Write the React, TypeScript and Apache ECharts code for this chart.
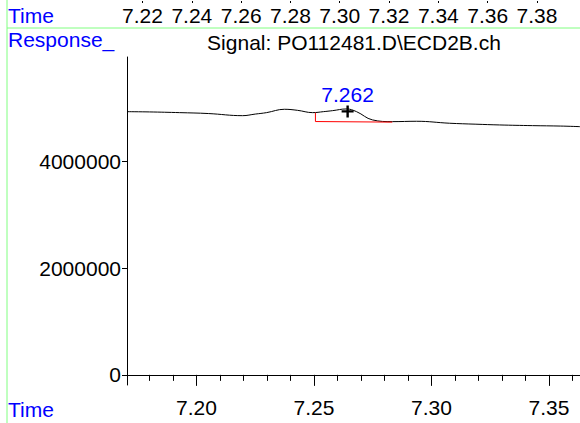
import React, { useEffect, useRef } from "react";
import * as echarts from "echarts";

// Chromatogram trace: [retention time (min), response]
const signalTimes = [
  7.1704, 7.18, 7.1928, 7.205, 7.2196, 7.225, 7.2298, 7.2374, 7.243, 7.2494, 7.254, 7.2579,
  7.2638, 7.2681, 7.2749, 7.2834, 7.2936, 7.3077, 7.3189, 7.3289, 7.343, 7.355, 7.3632,
];
const signalValues = [
  4935000, 4930000, 4917000, 4900000, 4860000, 4890000, 4917000, 4980000, 4960000, 4917000, 4935000, 4954000,
  4986000, 4935000, 4780000, 4748000, 4755000, 4718000, 4700000, 4686000, 4673000, 4665000, 4654000,
];

// integration baseline (red)
const baselineTimes = [7.2506, 7.2506, 7.2833];
const baselineValues = [4915000, 4750000, 4739000];

// peak marker
const peakTime = [7.2643];
const peakValue = [4940000];
const peakLabel = "7.262";

const xMajorTicks = [7.2, 7.25, 7.3, 7.35];
const xMinorTicks = [7.18, 7.19, 7.21, 7.22, 7.23, 7.24, 7.26, 7.27, 7.28, 7.29, 7.31, 7.32, 7.33, 7.34, 7.36];
const yMajorTicks = [0, 2000000, 4000000];
const yMinorTicks = [
  400000, 800000, 1200000, 1600000, 2400000, 2800000, 3200000, 3600000, 4400000, 4800000, 5200000, 5600000,
];
const topTicks = [7.22, 7.24, 7.26, 7.28, 7.3, 7.32, 7.34, 7.36, 7.38];

const X_MIN = 7.1704;
const X_MAX = 7.3632;
const Y_MIN = -190000;
const Y_MAX = 5960000;
const TOP_MIN = 7.2137;
const TOP_MAX = 7.39746;

const titleText = "Signal: PO112481.D\\ECD2B.ch";
const FONT = "Liberation Sans, Arial, sans-serif";
const FS = 21;
const BLUE = "#0000ff";
const GREEN = "#80ff80";

export default function App() {
  const ref = useRef<HTMLDivElement>(null);
  useEffect(() => {
    if (!ref.current) return;
    const chart = echarts.init(ref.current, undefined, { renderer: "svg" });
    const signal = signalTimes.map((t, i) => [t, signalValues[i]]);
    const baseline = baselineTimes.map((t, i) => [t, baselineValues[i]]);
    const peak = peakTime.map((t, i) => [t, peakValue[i]]);
    const labelStyle = { color: "#000", fontSize: FS, fontFamily: FONT };
    chart.setOption({
      animation: false,
      backgroundColor: "#fff",
      textStyle: { fontFamily: FONT },
      grid: [
        { left: 127, right: 0, top: 57, bottom: 38 },
        { left: 127, right: 0, top: 0, height: 1 },
      ],
      xAxis: [
        {
          type: "value",
          gridIndex: 0,
          min: X_MIN,
          max: X_MAX,
          position: "bottom",
          axisLine: { show: true, lineStyle: { color: "#000", width: 1 } },
          axisTick: { show: true, length: 11, lineStyle: { color: "#000" }, customValues: xMajorTicks },
          axisLabel: {
            ...labelStyle,
            margin: 12,
            customValues: xMajorTicks,
            formatter: (v: number) => v.toFixed(2),
          },
          splitLine: { show: false },
        },
        {
          type: "value",
          gridIndex: 0,
          min: X_MIN,
          max: X_MAX,
          position: "bottom",
          axisLine: { show: false },
          axisTick: { show: true, length: 6, lineStyle: { color: "#000" }, customValues: xMinorTicks },
          axisLabel: { show: false },
          splitLine: { show: false },
        },
        {
          type: "value",
          gridIndex: 1,
          min: TOP_MIN,
          max: TOP_MAX,
          position: "bottom",
          axisLine: { show: false },
          axisTick: { show: true, length: 2, lineStyle: { color: "#000" }, customValues: topTicks },
          axisLabel: {
            ...labelStyle,
            margin: 4,
            customValues: topTicks,
            formatter: (v: number) => v.toFixed(2),
          },
          splitLine: { show: false },
        },
      ],
      yAxis: [
        {
          type: "value",
          gridIndex: 0,
          min: Y_MIN,
          max: Y_MAX,
          axisLine: { show: true, lineStyle: { color: "#000", width: 1 } },
          axisTick: { show: true, length: 5, lineStyle: { color: "#000" }, customValues: yMajorTicks },
          axisLabel: {
            ...labelStyle,
            margin: 6,
            customValues: yMajorTicks,
            formatter: (v: number) => String(v),
          },
          splitLine: { show: false },
        },
        {
          type: "value",
          gridIndex: 0,
          min: Y_MIN,
          max: Y_MAX,
          axisLine: { show: false },
          axisTick: { show: true, length: 3, lineStyle: { color: "#000" }, customValues: yMinorTicks },
          axisLabel: { show: false },
          splitLine: { show: false },
        },
        {
          type: "value",
          gridIndex: 1,
          show: false,
        },
      ],
      series: [
        {
          type: "line",
          xAxisIndex: 0,
          yAxisIndex: 0,
          data: signal,
          smooth: 0.4,
          symbol: "none",
          lineStyle: { color: "#000", width: 1 },
        },
        {
          type: "line",
          xAxisIndex: 0,
          yAxisIndex: 0,
          data: baseline,
          symbol: "none",
          lineStyle: { color: "#ff0000", width: 1 },
        },
        {
          type: "scatter",
          xAxisIndex: 0,
          yAxisIndex: 0,
          data: peak,
          symbol: "path://M4,0h2v4h4v2h-4v4h-2v-4h-4v-2h4z",
          symbolSize: 12,
          itemStyle: { color: "#000", opacity: 1 },
          label: {
            show: true,
            position: "top",
            distance: 0,
            formatter: () => peakLabel,
            color: BLUE,
            opacity: 1,
            fontSize: FS,
            fontFamily: FONT,
          },
        },
      ],
      graphic: [
        { type: "line", shape: { x1: 7, y1: 0, x2: 7, y2: 423 }, style: { stroke: GREEN, lineWidth: 1 } },
        { type: "line", shape: { x1: 7, y1: 28, x2: 580, y2: 28 }, style: { stroke: GREEN, lineWidth: 1 } },
        {
          type: "text",
          left: 8,
          top: 5,
          style: { text: "Time", fill: BLUE, fontSize: FS, fontFamily: FONT },
        },
        {
          type: "text",
          left: 8,
          top: 29,
          style: { text: "Response_", fill: BLUE, fontSize: FS, fontFamily: FONT },
        },
        {
          type: "text",
          left: 8,
          top: 399,
          style: { text: "Time", fill: BLUE, fontSize: FS, fontFamily: FONT },
        },
        {
          type: "text",
          x: 354,
          y: 32,
          style: { text: titleText, fill: "#000", fontSize: FS, fontFamily: FONT, textAlign: "center" },
        },
      ],
    });
    return () => chart.dispose();
  }, []);
  return <div ref={ref} style={{ position: "absolute", left: 0, top: 0, width: 580, height: 423 }} />;
}
